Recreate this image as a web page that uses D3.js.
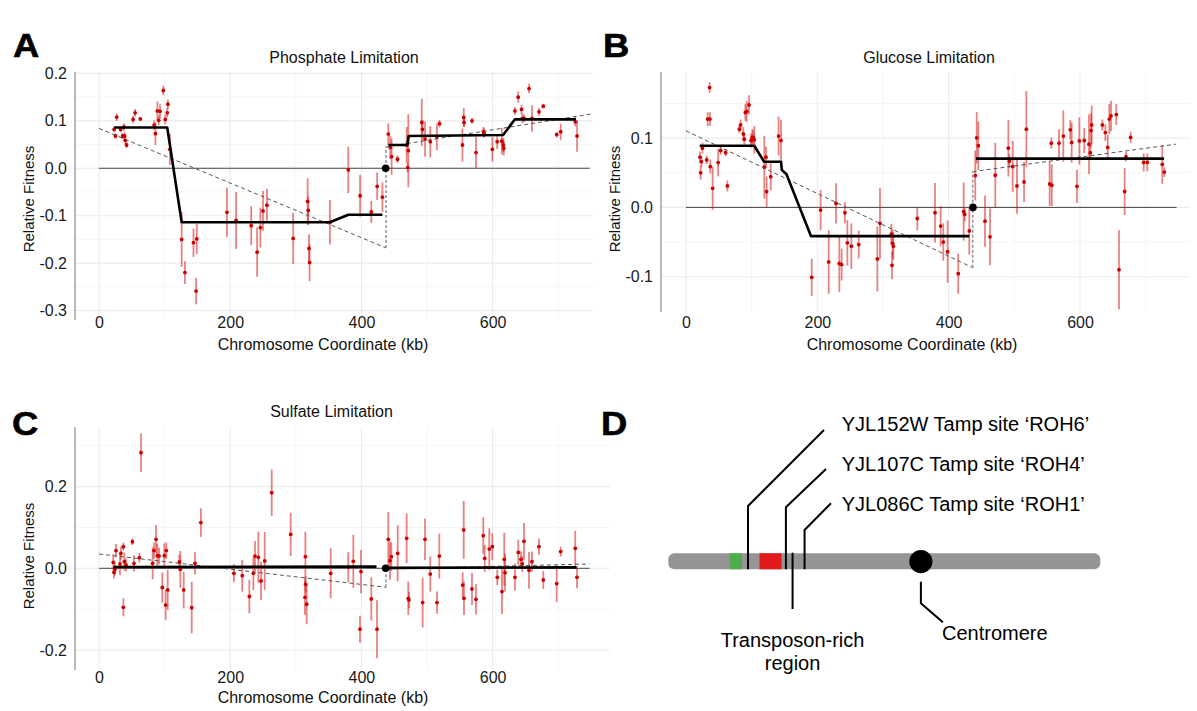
<!DOCTYPE html>
<html><head><meta charset="utf-8">
<script src="https://cdn.jsdelivr.net/npm/d3@7"></script>
<style>
body{margin:0;background:#fff;}
svg{display:block;font-family:"Liberation Sans",Arial,Helvetica,sans-serif;}
</style></head><body>
<svg id="chart" width="1197" height="711"></svg>
<script>
// ---------- shared tick data ----------
const xTicks = [0, 200, 400, 600];
const xTickLabels = ["0", "200", "400", "600"];
const xMinor = [100, 300, 500, 700];
const centromereKb = 437;

// ---------- Panel A: Phosphate limitation ----------
const posA = [23,25,27,33,36,38,39,40,42,52,55,63,84,86,89,91,93,98,101,104,105,108,126,131,144,149,148,195,209,232,241,246,250,256,296,318,319,320,321,352,380,398,415,424,432,441,444,446,455,469,471.5,470.6,492,493,497,505,515,519,554,556,556.5,568.6,574.7,586,587,599.6,607,614,616.4,617,634,639,644,645.3,648,655.5,660,670.7,677.3,697.7,703.8,726,728.7];
const fitA = [0.082,0.068,0.108,0.082,0.068,0.087,0.068,0.059,0.049,0.103,0.117,0.104,0.091,0.073,0.121,0.101,0.12,0.164,0.103,0.117,0.135,0.04,-0.150,-0.220,-0.157,-0.149,-0.259,-0.093,-0.110,-0.121,-0.177,-0.125,-0.090,-0.078,-0.148,-0.070,-0.089,-0.169,-0.199,-0.114,-0.0035,-0.058,-0.092,-0.038,-0.061,0.072,0.044,0.0245,0.019,0.049,0.037,0.0014,0.0965,0.082,0.0615,0.056,0.066,0.094,0.049,0.107,0.0965,0.1,0.033,0.077,0.074,0.04,0.056,0.057,0.049,0.042,0.121,0.150,0.124,0.105,0.105,0.168,0.105,0.119,0.131,0.071,0.077,0.098,0.068];
const seA = [0.006,0.006,0.008,0.006,0.006,0.008,0.008,0.008,0.006,0.008,0.008,0.004,0.01,0.024,0.02,0.01,0.015,0.01,0.01,0.01,0.01,0.033,0.058,0.024,0.03,0.032,0.028,0.052,0.06,0.041,0.052,0.042,0.042,0.035,0.054,0.049,0.03,0.03,0.039,0.047,0.049,0.044,0.023,0.029,0.031,0.023,0.024,0.038,0.008,0.038,0.077,0.01,0.05,0.02,0.037,0.033,0.028,0.008,0.035,0.02,0.01,0.006,0.033,0.01,0.01,0.026,0.015,0.028,0.015,0.015,0.008,0.012,0.01,0.01,0.008,0.01,0.028,0.008,0.005,0.006,0.017,0.01,0.033];
const stepA = [
  [[23,0.086],[104,0.086],[126,-0.114],[352,-0.114],[380,-0.098],[432,-0.098]],
  [[441,0.049],[470,0.049],[472,0.068],[616,0.070],[634,0.1035],[727,0.103]]
];
const trendA = [[[0,0.084],[437.5,-0.168]], [[437.5,0.045],[753,0.115]]];

// ---------- Panel B: Glucose limitation ----------
const posB = [21.3,22.3,23.4,25,31.5,33,36,36.5,37,40.6,49,52.8,60.4,63,81.2,83.2,87.3,88.8,90.4,92.4,96,99,101,102.5,104,119.3,121.8,122.8,129,141,144.7,191.4,205,217.3,228.4,233.5,237,242,245.7,251.8,263,291.4,295.4,312.7,313.7,314.7,315.7,352.2,379.2,387.8,391.8,398.4,414.6,422.8,424.4,431.4,440.5,442.7,445.2,455.3,463,471,490.9,492.4,497.5,504,514.8,518.3,553.8,556.3,557,568,574.6,585.2,587.3,595.4,599,606.5,613.7,615.7,616.8,617.8,634,638.6,642.2,644.6,647.2,655.3,659.4,668,670,677.1,697,702.5,725.3,728.4];
const fitB = [0.0725,0.050,0.066,0.0855,0.0686,0.1275,0.173,0.1275,0.059,0.0275,0.0647,0.082,0.079,0.031,0.113,0.119,0.106,0.0985,0.137,0.1386,0.148,0.0966,0.101,0.101,0.0976,0.058,0.0725,0.0227,0.0444,0.103,0.0966,-0.101,-0.0039,-0.0787,0.0058,-0.081,-0.0826,-0.0077,-0.0512,-0.056,-0.0536,-0.0744,-0.023,-0.0386,-0.0836,-0.052,-0.056,-0.016,-0.0077,-0.027,-0.050,-0.064,-0.0957,-0.006,-0.010,-0.034,0.046,0.1005,0.089,-0.0198,-0.0425,0.0464,0.0855,0.067,0.059,0.031,0.0367,0.113,0.0338,0.0928,0.032,0.0928,0.103,0.112,0.0937,0.0304,0.096,0.0966,0.0913,0.079,0.111,0.119,0.119,0.108,0.0865,0.1275,0.132,0.134,-0.090,0.023,0.0734,0.101,0.065,0.065,0.062,0.051];
const seB = [0.008,0.01,0.008,0.008,0.006,0.01,0.008,0.01,0.01,0.031,0.02,0.006,0.005,0.008,0.006,0.008,0.01,0.008,0.012,0.015,0.014,0.01,0.012,0.01,0.02,0.045,0.015,0.022,0.02,0.028,0.03,0.027,0.029,0.046,0.029,0.041,0.023,0.015,0.033,0.033,0.02,0.047,0.051,0.015,0.02,0.02,0.02,0.017,0.043,0.029,0.027,0.045,0.029,0.042,0.01,0.034,0.036,0.037,0.035,0.037,0.041,0.047,0.041,0.01,0.037,0.04,0.029,0.055,0.032,0.008,0.03,0.02,0.037,0.014,0.029,0.024,0.034,0.018,0.043,0.01,0.025,0.028,0.008,0.012,0.018,0.022,0.022,0.015,0.057,0.034,0.007,0.008,0.013,0.013,0.028,0.007];
const stepB = [
  [[21,0.089],[104,0.089],[119,0.066],[144.7,0.066],[146,0.054],[153,0.048],[190.4,-0.0415],[431.4,-0.0415]],
  [[441.5,0.0705],[728,0.0705]]
];
const trendB = [[[0,0.1106],[436.6,-0.087]], [[436.6,0.0517],[746,0.0913]]];

// ---------- Panel C: Sulfate limitation ----------
const posC = [21.8,22.8,24.3,25.9,32,33.5,37.1,37.1,38.6,41.2,50.9,53.3,61.5,64,81.8,83.8,86.9,88.9,91.5,96.5,99.6,101.6,102.6,104.7,122.5,124,129.1,141.3,146.4,155.3,205.6,218.4,229.2,235.3,237.8,242.9,247,252.6,263.3,292.2,314.6,314,315,316.6,353.2,380,387.7,399.4,397.9,415.1,423.8,441,443.6,445.6,455.3,469,471.5,472.5,493.4,497,505,515.2,518.8,554.4,556,556.4,568.6,574.7,585.8,588,595,599.6,607.2,614.3,617.8,619,634.1,639.2,643.3,645.3,647.9,655.5,660,670.7,677.3,697.7,703.8,726,728.7];
const fitC = [0.0147,-0.0098,-0.0024,0.0433,0.0106,0.0367,0.053,-0.0955,0.0163,0.0082,0.065,0.0122,0.026,0.283,0.0122,0.0433,0.071,0.031,0.0302,-0.047,0.031,-0.090,0.0433,-0.053,0.0155,-0.0024,-0.053,-0.0963,0.0122,0.112,-0.0122,-0.018,-0.069,-0.0122,0.030,0.027,-0.031,0.018,0.185,0.083,0.0286,-0.071,-0.039,-0.088,-0.0122,0.0024,0.017,-0.008,-0.149,-0.075,-0.149,0.071,0.0188,0.0286,0.0367,0.0735,-0.0735,-0.0776,-0.084,0.071,-0.014,-0.084,0.030,-0.041,0.094,-0.0735,-0.0506,-0.076,0.080,0.0245,0.047,0.053,-0.022,-0.057,0.022,-0.0106,-0.022,0.039,0.022,0.0106,0.066,-0.005,0.0163,0.053,-0.0286,-0.0375,0.041,0.049,-0.022];
const seC = [0.02,0.015,0.015,0.016,0.027,0.016,0.01,0.022,0.022,0.016,0.008,0.02,0.012,0.047,0.039,0.02,0.035,0.029,0.02,0.037,0.03,0.037,0.02,0.049,0.018,0.045,0.045,0.063,0.027,0.035,0.022,0.039,0.041,0.041,0.037,0.063,0.047,0.071,0.057,0.053,0.061,0.043,0.02,0.049,0.061,0.037,0.065,0.053,0.033,0.053,0.071,0.067,0.047,0.035,0.069,0.061,0.041,0.02,0.061,0.051,0.043,0.027,0.055,0.031,0.071,0.041,0.039,0.037,0.045,0.033,0.051,0.033,0.019,0.055,0.065,0.047,0.033,0.031,0.02,0.02,0.045,0.045,0.025,0.02,0.022,0.045,0.012,0.043,0.027];
const stepC = [
  [[22,0.0033],[423,0.004]],
  [[441,0.001],[728,0.0024]]
];
const trendC = [[[0,0.035],[437.5,-0.0465]], [[437.5,-0.0016],[748,0.0106]]];

// ---------- Panel D: chromosome X schematic ----------
const chrLengthKb = 745.7;
const blockStartKb = [105.8, 157.4];
const blockEndKb = [127.2, 195.4];
const sitePosKb = [137.6, 203, 235.2];
const siteLabels = ["YJL152W Tamp site \u2018ROH6\u2019", "YJL107C Tamp site \u2018ROH4\u2019", "YJL086C Tamp site \u2018ROH1\u2019"];
const transposonKb = 214.5;
const transposonLabel = ["Transposon-rich", "region"];
const centromereLabel = "Centromere";

// =====================================================
const svg = d3.select("#chart");
const FONT = '"Liberation Sans", Arial, Helvetica, sans-serif';

function panelLetter(g, letter, x, y) {
  g.append("text").attr("transform", `translate(${x},${y}) scale(1.07,1)`)
    .attr("font-size", 34).attr("font-weight", "bold").attr("font-family", FONT)
    .attr("fill", "#000").attr("stroke", "#000").attr("stroke-width", 0.6).text(letter);
}

function drawPanel(cfg) {
  const g = svg.append("g");
  const x = d3.scaleLinear().domain(cfg.xDomain).range([cfg.left, cfg.right]);
  const y = d3.scaleLinear().domain(cfg.yDomain).range([cfg.bottom, cfg.top]);

  // grid
  g.selectAll(null).data(xMinor).join("line")
    .attr("x1", d => x(d)).attr("x2", d => x(d)).attr("y1", cfg.top).attr("y2", cfg.bottom)
    .attr("stroke", "#f3f3f3").attr("stroke-width", 0.8);
  g.selectAll(null).data(cfg.yMinor).join("line")
    .attr("y1", d => y(d)).attr("y2", d => y(d)).attr("x1", cfg.left).attr("x2", cfg.right)
    .attr("stroke", "#f3f3f3").attr("stroke-width", 0.8);
  g.selectAll(null).data(xTicks).join("line")
    .attr("x1", d => x(d)).attr("x2", d => x(d)).attr("y1", cfg.top).attr("y2", cfg.bottom)
    .attr("stroke", "#ebebeb").attr("stroke-width", 1.1);
  g.selectAll(null).data(cfg.yTicks).join("line")
    .attr("y1", d => y(d)).attr("y2", d => y(d)).attr("x1", cfg.left).attr("x2", cfg.right)
    .attr("stroke", "#ebebeb").attr("stroke-width", 1.1);

  // y axis line
  g.append("line").attr("x1", cfg.left).attr("x2", cfg.left).attr("y1", cfg.top).attr("y2", cfg.bottom)
    .attr("stroke", "#8a8a8a").attr("stroke-width", 1.2);

  // axes labels
  const ya = g.append("g").attr("transform", `translate(${cfg.left},0)`)
    .call(d3.axisLeft(y).tickValues(cfg.yTicks).tickFormat((d, i) => cfg.yLabels[i]).tickSize(0).tickPadding(8));
  ya.select(".domain").remove();
  ya.selectAll("text").attr("font-size", 16).attr("font-family", FONT).attr("fill", "#1a1a1a");

  const xa = g.append("g").attr("transform", `translate(0,${cfg.xLabelY})`)
    .call(d3.axisBottom(x).tickValues(xTicks).tickFormat((d, i) => xTickLabels[i]).tickSize(0).tickPadding(0));
  xa.select(".domain").remove();
  xa.selectAll("text").attr("y", 0).attr("dy", 0).attr("font-size", 16).attr("font-family", FONT).attr("fill", "#1a1a1a");

  // zero reference line
  g.append("line").attr("x1", x(0)).attr("x2", x(cfg.zeroEnd)).attr("y1", y(0)).attr("y2", y(0))
    .attr("stroke", "#333").attr("stroke-width", 0.9);

  const line = d3.line().x(d => x(d[0])).y(d => y(d[1]));

  // error bars
  const idx = d3.range(cfg.pos.length);
  g.selectAll(null).data(idx).join("line")
    .attr("x1", i => x(cfg.pos[i])).attr("x2", i => x(cfg.pos[i]))
    .attr("y1", i => y(cfg.fit[i] - cfg.se[i])).attr("y2", i => y(cfg.fit[i] + cfg.se[i]))
    .attr("stroke", "#d41c1c").attr("stroke-opacity", 0.55).attr("stroke-width", 1.8);
  g.selectAll(null).data(idx).join("circle")
    .attr("cx", i => x(cfg.pos[i])).attr("cy", i => y(cfg.fit[i])).attr("r", 1.9)
    .attr("fill", "#cc0000");

  // dashed trend
  cfg.trend.forEach(seg => g.append("path").attr("d", line(seg)).attr("fill", "none")
    .attr("stroke", "#555").attr("stroke-width", 1).attr("stroke-dasharray", "4,3"));
  // vertical connector
  g.append("path").attr("d", line([cfg.trend[0][1], cfg.trend[1][0]])).attr("fill", "none")
    .attr("stroke", "#999").attr("stroke-width", 1.6).attr("stroke-dasharray", "3,2");

  // step fit
  cfg.step.forEach(seg => g.append("path").attr("d", line(seg)).attr("fill", "none")
    .attr("stroke", "#000").attr("stroke-width", 2.6).attr("stroke-linejoin", "round"));

  // centromere dot
  g.append("circle").attr("cx", x(centromereKb)).attr("cy", y(0)).attr("r", 3.8).attr("fill", "#000");

  // titles
  g.append("text").attr("x", cfg.titleX).attr("y", cfg.titleY).attr("text-anchor", "middle")
    .attr("font-size", 16).attr("font-family", FONT).attr("fill", "#111").text(cfg.title);
  g.append("text").attr("x", cfg.xTitleX).attr("y", cfg.xTitleY).attr("text-anchor", "middle")
    .attr("font-size", 16).attr("font-family", FONT).attr("fill", "#111").text("Chromosome Coordinate (kb)");
  g.append("text").attr("transform", `translate(${cfg.yTitleX},${cfg.yTitleY}) rotate(-90)`).attr("text-anchor", "middle")
    .attr("font-size", 15).attr("font-family", FONT).attr("fill", "#111").text("Relative Fitness");
  panelLetter(g, cfg.letter, cfg.letterX, cfg.letterY);
}

drawPanel({
  letter: "A", letterX: 13, letterY: 57,
  title: "Phosphate Limitation", titleX: 344, titleY: 63,
  left: 75, right: 593, top: 72, bottom: 320,
  xDomain: [-36.6, 753], yDomain: [-0.32, 0.203],
  yTicks: [-0.3, -0.2, -0.1, 0, 0.1, 0.2], yLabels: ["-0.3", "-0.2", "-0.1", "0.0", "0.1", "0.2"],
  yMinor: [-0.25, -0.15, -0.05, 0.05, 0.15],
  xLabelY: 328, xTitleX: 323, xTitleY: 350, yTitleX: 33.5, yTitleY: 199,
  zeroEnd: 748, pos: posA, fit: fitA, se: seA, step: stepA, trend: trendA
});
drawPanel({
  letter: "B", letterX: 603, letterY: 57,
  title: "Glucose Limitation", titleX: 929, titleY: 63,
  left: 661, right: 1190, top: 72, bottom: 312,
  xDomain: [-38.07, 767.5], yDomain: [-0.151, 0.1955],
  yTicks: [-0.1, 0, 0.1], yLabels: ["-0.1", "0.0", "0.1"],
  yMinor: [-0.05, 0.05, 0.15],
  xLabelY: 328, xTitleX: 912, xTitleY: 350, yTitleX: 620, yTitleY: 199,
  zeroEnd: 747, pos: posB, fit: fitB, se: seB, step: stepB, trend: trendB
});
drawPanel({
  letter: "C", letterX: 12, letterY: 435,
  title: "Sulfate Limitation", titleX: 331.5, titleY: 416.7,
  left: 75, right: 610, top: 427, bottom: 670,
  xDomain: [-36.6, 779], yDomain: [-0.249, 0.346],
  yTicks: [-0.2, 0, 0.2], yLabels: ["-0.2", "0.0", "0.2"],
  yMinor: [-0.1, 0.1, 0.3],
  xLabelY: 683, xTitleX: 323, xTitleY: 703, yTitleX: 33.5, yTitleY: 556,
  zeroEnd: 748, pos: posC, fit: fitC, se: seC, step: stepC, trend: trendC
});

// ---------- Panel D ----------
(function () {
  const g = svg.append("g");
  const cx = d3.scaleLinear().domain([0, chrLengthKb]).range([668.3, 1100.3]);
  const barTop = 553.3, barH = 16, barMid = barTop + barH / 2, barBot = barTop + barH;
  panelLetter(g, "D", 601, 435);

  g.append("rect").attr("x", cx(0)).attr("y", barTop).attr("width", cx(chrLengthKb) - cx(0)).attr("height", barH)
    .attr("rx", 6).attr("fill", "#959595");
  const blockColors = ["#4cae4c", "#e3191c"];
  g.selectAll(null).data(d3.range(blockStartKb.length)).join("rect")
    .attr("x", i => cx(blockStartKb[i])).attr("width", i => cx(blockEndKb[i]) - cx(blockStartKb[i]))
    .attr("y", barTop).attr("height", barH).attr("fill", i => blockColors[i]);

  // site leader lines and labels
  const labelX = 841.7, labelBase = 430.7, labelStep = 40;
  const elbowY = [506, 507.3, 530];
  const endOffX = [-17.7, -15.7, -10.7];
  const endOffY = [-0.7, -1.7, -7.4];
  sitePosKb.forEach((kb, i) => {
    const lb = labelBase + i * labelStep;
    g.append("path").attr("d", d3.line()([[cx(kb), barBot], [cx(kb), elbowY[i]], [labelX + endOffX[i], lb + endOffY[i]]]))
      .attr("fill", "none").attr("stroke", "#000").attr("stroke-width", 2);
    g.append("text").attr("x", labelX).attr("y", lb).attr("font-size", 20).attr("font-family", FONT)
      .attr("fill", "#000").text(siteLabels[i]);
  });

  // transposon-rich region
  const tx = cx(transposonKb);
  g.append("line").attr("x1", tx).attr("x2", tx).attr("y1", barTop - 0.6).attr("y2", 609)
    .attr("stroke", "#000").attr("stroke-width", 2);
  transposonLabel.forEach((t, i) => g.append("text").attr("x", tx).attr("y", 646.7 + i * 23.3)
    .attr("text-anchor", "middle").attr("font-size", 20).attr("font-family", FONT).attr("fill", "#000").text(t));

  // centromere
  const cc = cx(centromereKb - 1);
  g.append("circle").attr("cx", cc).attr("cy", barMid + 0.3).attr("r", 11.6).attr("fill", "#000");
  g.append("path").attr("d", d3.line()([[cc, 581.7], [cc, 603.3], [cc + 22, 622.3]]))
    .attr("fill", "none").attr("stroke", "#000").attr("stroke-width", 2);
  g.append("text").attr("x", 942).attr("y", 640).attr("font-size", 20).attr("font-family", FONT)
    .attr("fill", "#000").text(centromereLabel);
})();
</script>
</body></html>
